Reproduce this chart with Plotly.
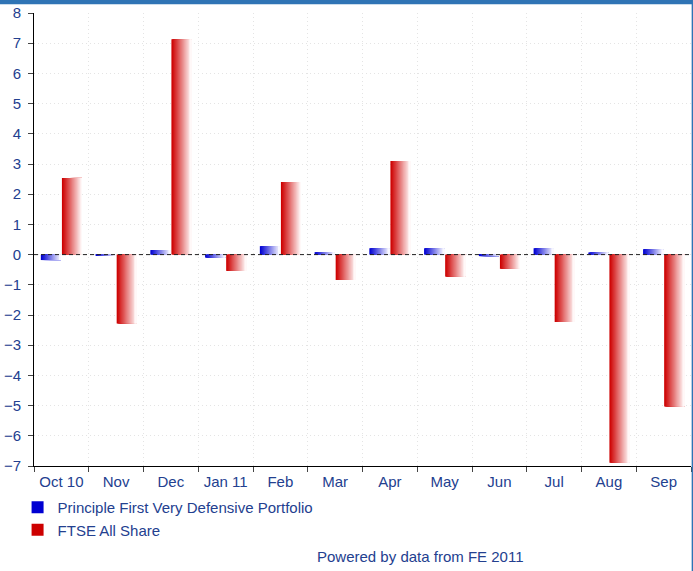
import plotly.graph_objs as go

# --- DATA (monthly % returns) ---
months = ["Oct 10", "Nov", "Dec", "Jan 11", "Feb", "Mar",
          "Apr", "May", "Jun", "Jul", "Aug", "Sep"]
portfolio = [-0.18, -0.03, 0.15, -0.10, 0.28, 0.08,
             0.21, 0.21, -0.05, 0.21, 0.07, 0.18]
ftse = [2.54, -2.28, 7.13, -0.54, 2.40, -0.84,
        3.10, -0.73, -0.47, -2.23, -6.89, -5.03]

series = [
    ("Principle First Very Defensive Portfolio", portfolio, (0, 0, 210), (248, 248, 255), -0.375),
    ("FTSE All Share", ftse, (205, 0, 0), (255, 248, 248), 0.01),
]

text_col = "#23408f"
frame_col = "#2f74b5"
bar_w = 0.365
n_slices = 24  # fake a left->right gradient with overlapping slices

fig = go.Figure()

for name, vals, c0, c1, off in series:
    for k in range(n_slices):
        t = k / (n_slices - 1)
        col = "rgb(%d,%d,%d)" % tuple(round(a + (b - a) * t) for a, b in zip(c0, c1))
        step = bar_w / n_slices
        fig.add_trace(go.Bar(
            x=months, y=vals, name=name,
            offset=off + k * step, width=bar_w - k * step,
            marker=dict(color=col, line=dict(width=0)),
            legendgroup=name, showlegend=(k == 0),
            hoverinfo="skip" if k else None,
        ))

# dashed zero line
fig.add_hline(y=0, line=dict(color="#222222", width=1, dash="4px,3px"))

# blue frame: top strip and right edge
fig.add_shape(type="rect", xref="paper", yref="paper",
              x0=-0.06, x1=1.01, y0=1.0195, y1=1.04,
              fillcolor=frame_col, line=dict(width=0))
fig.add_shape(type="rect", xref="paper", yref="paper",
              x0=1.001, x1=1.01, y0=-0.25, y1=1.04,
              fillcolor=frame_col, line=dict(width=0))

fig.add_annotation(text="Powered by data from FE 2011",
                   xref="paper", yref="paper", x=0.588, y=-0.222,
                   showarrow=False, font=dict(size=15, color=text_col))

axis_style = dict(
    automargin=False,
    showline=True, linecolor="black", linewidth=1,
    ticks="outside", ticklen=5, tickcolor="#444444",
    showgrid=True, gridcolor="#e4e4e4", griddash="1px,3px",
    tickfont=dict(size=15, color=text_col),
)
fig.update_xaxes(type="category", tickson="boundaries", ticklabelstandoff=2, **axis_style)
fig.update_yaxes(range=[-7, 8], dtick=1, zeroline=False, ticklabelstandoff=4, **axis_style)

fig.update_layout(
    width=693, height=571,
    margin=dict(l=34, r=2, t=13, b=105),
    barmode="overlay",
    plot_bgcolor="white", paper_bgcolor="white",
    font=dict(family="Liberation Sans, Arial, sans-serif", size=15, color=text_col),
    showlegend=True,
    legend=dict(x=-0.025, y=-0.055, xanchor="left", yanchor="top",
                bgcolor="rgba(0,0,0,0)", tracegroupgap=0,
                itemwidth=30, font=dict(size=15, color=text_col)),
)

# drop the default 8px page margin so the figure sits at the window's corner
fig.write_html("out.html", config={"displayModeBar": False},
               post_script="document.body.style.margin = '0';")
